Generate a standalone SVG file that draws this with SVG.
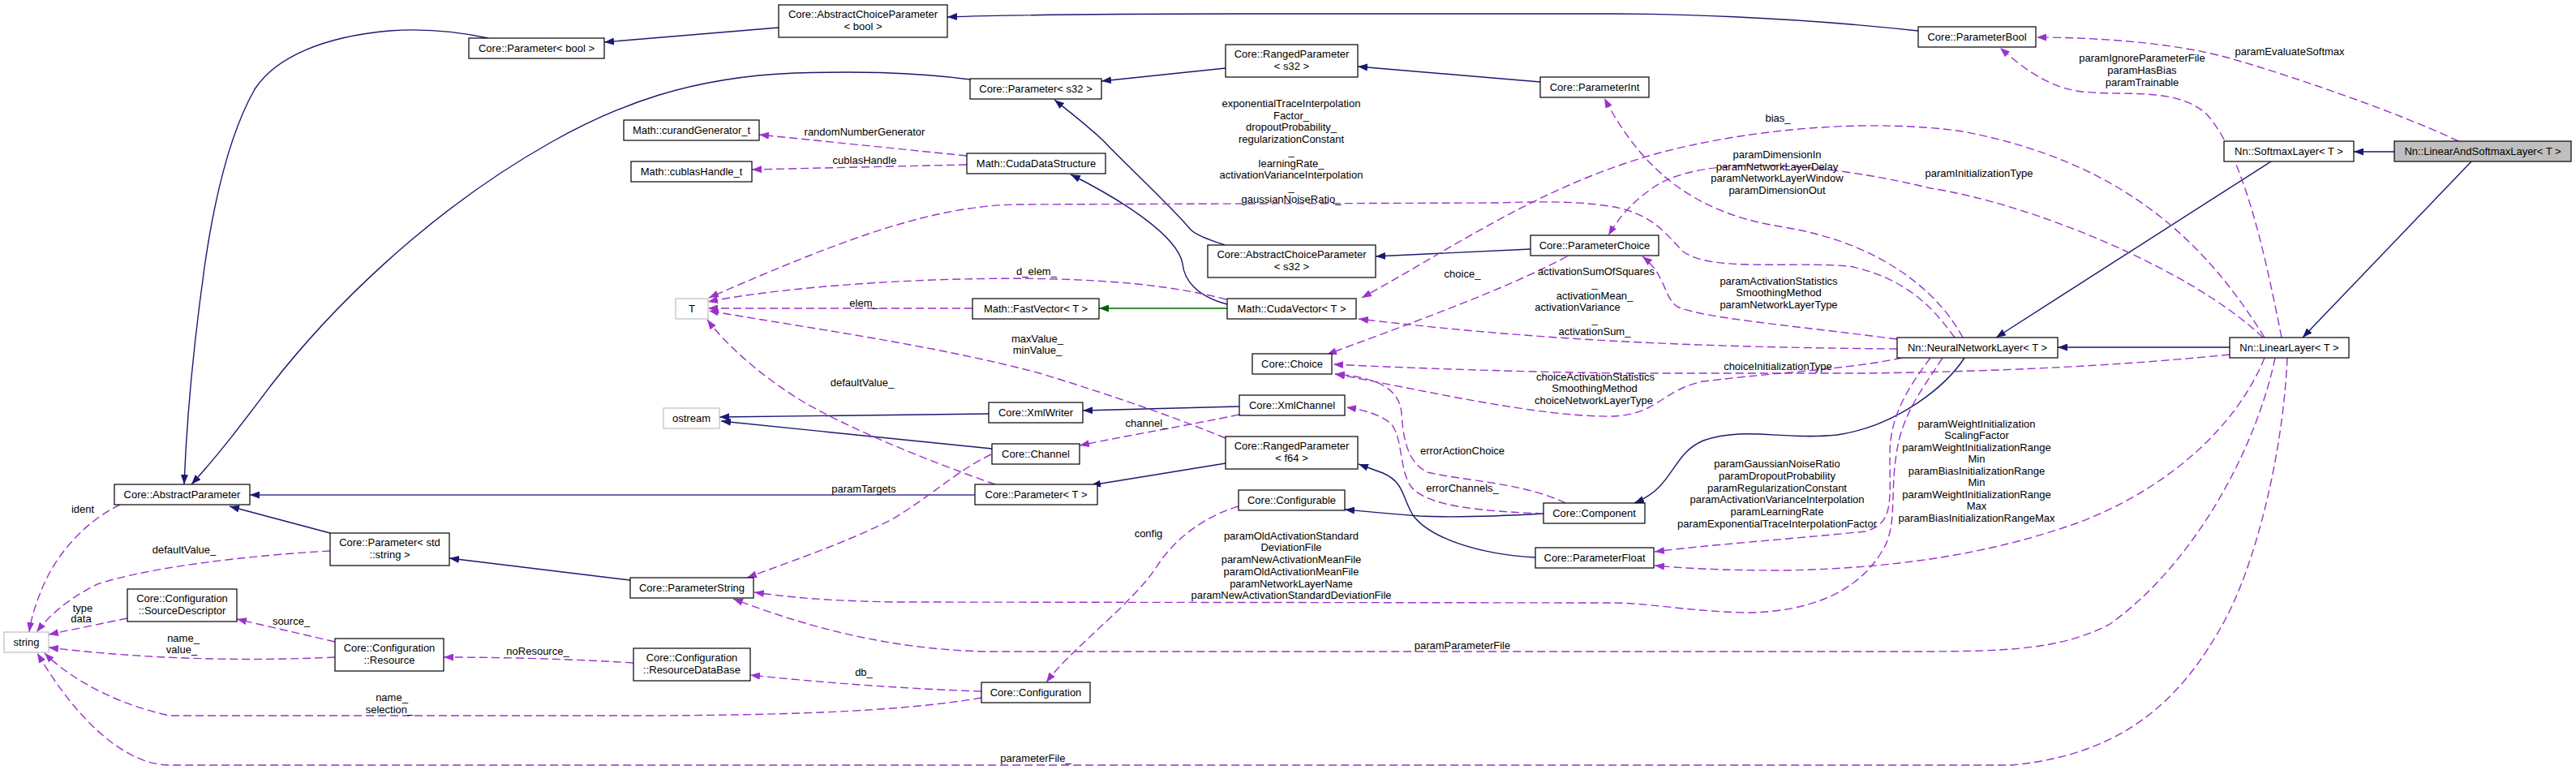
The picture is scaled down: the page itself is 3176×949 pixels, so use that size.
<svg xmlns="http://www.w3.org/2000/svg" width="3176" height="949" viewBox="0 0 3176 949">
<style>
text{font-family:"Liberation Sans",Arial,Helvetica,sans-serif;font-size:13px;fill:#000;text-anchor:middle}
.n rect{fill:#fff;stroke:#000;stroke-width:1.2}
.g rect{fill:#fff;stroke:#bfbfbf;stroke-width:1.2}
.s rect{fill:#bfbfbf;stroke:#000;stroke-width:1.2}
.inh{fill:none;stroke:#191970;stroke-width:1.4;marker-end:url(#aN)}
.inh2{fill:none;stroke:#6a6aaa;stroke-width:2.2;marker-end:url(#aN)}
.grn{fill:none;stroke:#006400;stroke-width:1.4;marker-end:url(#aG)}
.use{fill:none;stroke:#9a32cd;stroke-width:1.4;stroke-dasharray:10,5;marker-end:url(#aP)}
</style>
<defs>
<marker id="aN" viewBox="0 0 12 9" refX="12" refY="4.5" markerWidth="12" markerHeight="9" markerUnits="userSpaceOnUse" orient="auto"><path d="M0,0L12,4.5L0,9z" fill="#191970"/></marker>
<marker id="aG" viewBox="0 0 12 9" refX="12" refY="4.5" markerWidth="12" markerHeight="9" markerUnits="userSpaceOnUse" orient="auto"><path d="M0,0L12,4.5L0,9z" fill="#006400"/></marker>
<marker id="aP" viewBox="0 0 12 9" refX="12" refY="4.5" markerWidth="12" markerHeight="9" markerUnits="userSpaceOnUse" orient="auto"><path d="M0,0L12,4.5L0,9z" fill="#9a32cd"/></marker>
</defs>
<rect width="3176" height="949" fill="#fff"/>
<g id="connectors">
<path class="inh" d="M602,47 C560,38 520,35 480,38 C400,45 340,70 314,110 C280,170 262,260 252,330 C238,430 230,520 227,597"/>
<path class="inh" d="M1196,98 C1120,88 1050,88 980,90 C850,95 760,130 680,175 C520,265 400,390 334,475 C300,520 270,560 236,597"/>
<path class="inh" d="M960,34 L745,52"/>
<path class="inh" d="M2365,38 C2200,20 2050,17 1990,17 L1600,17 C1350,17 1250,18 1168,21"/>
<path class="inh" d="M1511,84 L1358,100"/>
<path class="inh" d="M1899,101 L1674,82"/>
<path class="inh" d="M1510,302 C1490,295 1475,290 1468,283 C1440,250 1380,195 1360,173 C1335,150 1315,135 1300,123"/>
<path class="inh" d="M1887,307 L1696,316"/>
<path class="inh" d="M1513,375 C1475,365 1460,345 1458,325 C1452,290 1380,245 1320,215"/>
<path class="grn" d="M1513,380 L1355,380"/>
<path class="inh" d="M1528,501 L1335,506"/>
<path class="inh" d="M1219,510 L887,514"/>
<path class="inh" d="M1223,553 L889,519"/>
<path class="inh2" d="M1202,610 L308,610"/>
<path class="inh" d="M407,657 L283,624"/>
<path class="inh" d="M777,715 L554,688"/>
<path class="inh" d="M1511,571 L1345,598"/>
<path class="inh" d="M1893,687 C1820,683 1762,662 1742,635 C1728,612 1732,595 1705,583 L1675,572"/>
<path class="inh" d="M1903,633 C1850,636 1790,638 1750,636 C1710,633 1680,630 1658,628"/>
<path class="inh" d="M2422,441 C2400,475 2340,525 2265,536 C2200,543 2150,525 2100,543 C2060,560 2065,600 2015,620"/>
<path class="inh" d="M2800,199 L2461,416"/>
<path class="inh" d="M2952,187 L2902,187"/>
<path class="inh" d="M3047,199 L2839,416"/>
<path class="inh" d="M2749,428 L2537,428"/>

<path class="use" d="M1192,192 L936,166"/>
<path class="use" d="M1192,203 L927,209"/>
<path class="use" d="M1199,380 L873,380"/>
<path class="use" d="M1512,369 C1420,345 1300,340 1150,345 C1020,350 920,362 873,372"/>
<path class="use" d="M2410,416 C2390,390 2360,345 2280,328 C2200,322 2110,335 2075,310 C2055,290 2040,265 1990,255 C1950,248 1900,248 1850,250 L1251,252 C1150,255 1050,290 874,367"/>
<path class="use" d="M1227,597 C1150,570 1050,530 990,495 C940,465 895,425 872,394"/>
<path class="use" d="M1511,540 C1450,515 1380,490 1282,460 C1150,425 1000,405 874,383"/>
<path class="use" d="M2792,416 C2720,300 2620,200 2420,162 C2300,145 2150,160 2040,190 C1900,230 1800,300 1679,367"/>
<path class="use" d="M1932,316 C1850,360 1720,405 1636,437"/>
<path class="use" d="M2339,430 C2100,428 1900,420 1675,393"/>
<path class="use" d="M2339,418 C2200,400 2100,392 2068,378 C2050,365 2055,340 2025,316"/>
<path class="use" d="M2420,416 C2390,360 2320,300 2200,280 C2100,265 2030,220 1978,121"/>
<path class="use" d="M2790,416 C2700,330 2500,250 2380,232 C2250,200 2100,190 2040,230 C2010,250 1995,270 1983,290"/>
<path class="use" d="M2749,437 C2600,452 2450,458 2300,460 L2000,460 C1850,458 1700,452 1644,449"/>
<path class="use" d="M2345,441 C2280,455 2200,458 2100,470 C2050,480 2045,510 1990,513 C1900,515 1750,480 1646,461"/>
<path class="use" d="M1930,620 C1880,595 1800,592 1760,582 C1735,570 1730,540 1728,510 C1726,480 1700,465 1646,461"/>
<path class="use" d="M1903,633 C1830,630 1760,625 1740,600 C1725,580 1730,540 1715,522 C1700,510 1680,505 1660,502"/>
<path class="use" d="M2380,441 C2355,475 2330,510 2330,560 C2330,620 2335,645 2300,655 C2200,665 2100,672 2040,680"/>
<path class="use" d="M2792,441 C2760,520 2680,600 2560,645 C2460,680 2350,700 2200,703 C2120,703 2070,700 2040,697"/>
<path class="use" d="M2395,441 C2370,480 2345,510 2338,560 C2330,610 2340,650 2320,680 C2290,730 2230,755 2150,755 C2080,753 2030,743 1990,743 L1100,742 C1000,740 960,734 930,730"/>
<path class="use" d="M2805,441 C2780,560 2700,700 2600,770 C2540,800 2480,803 2360,803 L1214,803 C1100,800 1000,775 904,738"/>
<path class="use" d="M2820,441 C2815,560 2780,700 2740,770 C2690,860 2620,930 2480,943 L210,943 C150,943 90,880 46,805"/>
<path class="use" d="M1210,860 C1150,870 1050,882 780,882 L210,882 C150,870 90,840 55,805"/>
<path class="use" d="M148,622 C100,645 65,690 50,730 C42,750 38,765 36,779"/>
<path class="use" d="M407,679 C300,685 180,700 120,720 C80,740 60,760 45,779"/>
<path class="use" d="M157,762 L60,782"/>
<path class="use" d="M413,810 C330,814 200,815 60,798"/>
<path class="use" d="M413,791 L292,763"/>
<path class="use" d="M781,817 C700,812 620,810 547,810"/>
<path class="use" d="M1210,852 C1150,850 1050,845 925,832"/>
<path class="use" d="M1527,624 C1490,635 1450,660 1425,700 C1395,745 1320,800 1290,841"/>
<path class="use" d="M1528,511 C1460,525 1400,535 1331,549"/>
<path class="use" d="M1222,560 C1180,580 1150,610 1100,640 C1040,670 980,690 921,712"/>
<path class="use" d="M3031,174 C2960,140 2830,95 2750,72 C2680,52 2580,46 2511,46"/>
<path class="use" d="M2813,416 C2790,300 2765,190 2720,140 C2680,105 2610,120 2560,112 C2520,105 2490,80 2466,59"/>

<g id="edge-labels">
<text x="1066" y="167">randomNumberGenerator</text>
<text x="1066" y="202">cublasHandle</text>
<text x="1278" y="339">d_elem_</text>
<text x="1065" y="378">elem_</text>
<text x="1279" y="422">maxValue_</text>
<text x="1279" y="436">minValue_</text>
<text x="1063" y="476">defaultValue_</text>
<text x="1592" y="132">exponentialTraceInterpolation</text>
<text x="1592" y="146.5">Factor_</text>
<text x="1592" y="161">dropoutProbability_</text>
<text x="1592" y="176">regularizationConstant</text>
<text x="1592" y="190.5">_</text>
<text x="1592" y="205.5">learningRate_</text>
<text x="1592" y="220">activationVarianceInterpolation</text>
<text x="1592" y="235">_</text>
<text x="1592" y="250">gaussianNoiseRatio_</text>
<text x="2192" y="150">bias_</text>
<text x="2191" y="195">paramDimensionIn</text>
<text x="2191" y="210">paramNetworkLayerDelay</text>
<text x="2191" y="224">paramNetworkLayerWindow</text>
<text x="2191" y="239">paramDimensionOut</text>
<text x="1803" y="342">choice_</text>
<text x="1968" y="339">activationSumOfSquares</text>
<text x="1966" y="354">_</text>
<text x="1966" y="369">activationMean_</text>
<text x="1945" y="383">activationVariance</text>
<text x="1966" y="398">_</text>
<text x="1966" y="413">activationSum_</text>
<text x="2193" y="351">paramActivationStatistics</text>
<text x="2193" y="365">SmoothingMethod</text>
<text x="2193" y="380">paramNetworkLayerType</text>
<text x="2192" y="456">choiceInitializationType</text>
<text x="1967" y="469">choiceActivationStatistics</text>
<text x="1966" y="483">SmoothingMethod</text>
<text x="1965" y="498">choiceNetworkLayerType</text>
<text x="1803" y="560">errorActionChoice</text>
<text x="1803" y="606">errorChannels_</text>
<text x="2191" y="576">paramGaussianNoiseRatio</text>
<text x="2191" y="591">paramDropoutProbability</text>
<text x="2191" y="606">paramRegularizationConstant</text>
<text x="2191" y="620">paramActivationVarianceInterpolation</text>
<text x="2191" y="635">paramLearningRate</text>
<text x="2191" y="650">paramExponentialTraceInterpolationFactor</text>
<text x="2437" y="527">paramWeightInitialization</text>
<text x="2437" y="541">ScalingFactor</text>
<text x="2437" y="556">paramWeightInitializationRange</text>
<text x="2437" y="570">Min</text>
<text x="2437" y="585">paramBiasInitializationRange</text>
<text x="2437" y="599">Min</text>
<text x="2437" y="614">paramWeightInitializationRange</text>
<text x="2437" y="628">Max</text>
<text x="2437" y="643">paramBiasInitializationRangeMax</text>
<text x="1592" y="665">paramOldActivationStandard</text>
<text x="1592" y="679">DeviationFile</text>
<text x="1592" y="694">paramNewActivationMeanFile</text>
<text x="1592" y="709">paramOldActivationMeanFile</text>
<text x="1592" y="724">paramNetworkLayerName</text>
<text x="1592" y="738">paramNewActivationStandardDeviationFile</text>
<text x="1803" y="800">paramParameterFile</text>
<text x="1277" y="939">parameterFile_</text>
<text x="2823" y="68">paramEvaluateSoftmax</text>
<text x="2641" y="76">paramIgnoreParameterFile</text>
<text x="2641" y="91">paramHasBias</text>
<text x="2641" y="106">paramTrainable</text>
<text x="2440" y="218">paramInitializationType</text>
<text x="102" y="632">ident</text>
<text x="227" y="682">defaultValue_</text>
<text x="102" y="754">type</text>
<text x="100" y="767">data</text>
<text x="359" y="770">source_</text>
<text x="226" y="791">name_</text>
<text x="224" y="805">value_</text>
<text x="483" y="864">name_</text>
<text x="480" y="879">selection_</text>
<text x="663" y="807">noResource_</text>
<text x="1065" y="833">db_</text>
<text x="1416" y="662">config</text>
<text x="1414" y="526">channel_</text>
<text x="1065" y="607">paramTargets</text>
</g>
</g>

<g id="n_param_bool" class="n"><rect x="578" y="47" width="167" height="25"/><text x="661.5" y="64">Core::Parameter&lt; bool &gt;</text></g>
<g id="n_acp_bool" class="n"><rect x="960" y="6" width="208" height="40"/><text x="1064" y="22">Core::AbstractChoiceParameter</text><text x="1064" y="37">&lt; bool &gt;</text></g>
<g id="n_parameterbool" class="n"><rect x="2365" y="33" width="145" height="25"/><text x="2437.5" y="50">Core::ParameterBool</text></g>
<g id="n_param_s32" class="n"><rect x="1196" y="97" width="162" height="25"/><text x="1277" y="114">Core::Parameter&lt; s32 &gt;</text></g>
<g id="n_ranged_s32" class="n"><rect x="1511" y="55" width="163" height="40"/><text x="1592.5" y="71">Core::RangedParameter</text><text x="1592.5" y="86">&lt; s32 &gt;</text></g>
<g id="n_parameterint" class="n"><rect x="1899" y="95" width="134" height="25"/><text x="1966" y="112">Core::ParameterInt</text></g>
<g id="n_curand" class="n"><rect x="769" y="148" width="167" height="25"/><text x="852.5" y="165">Math::curandGenerator_t</text></g>
<g id="n_cublas" class="n"><rect x="778" y="199" width="149" height="25"/><text x="852.5" y="216">Math::cublasHandle_t</text></g>
<g id="n_cudads" class="n"><rect x="1192" y="189" width="171" height="25"/><text x="1277.5" y="206">Math::CudaDataStructure</text></g>
<g id="n_acp_s32" class="n"><rect x="1489" y="302" width="207" height="40"/><text x="1592.5" y="318">Core::AbstractChoiceParameter</text><text x="1592.5" y="333">&lt; s32 &gt;</text></g>
<g id="n_parameterchoice" class="n"><rect x="1887" y="290" width="158" height="25"/><text x="1966" y="307">Core::ParameterChoice</text></g>
<g id="n_T" class="g"><rect x="833" y="368" width="40" height="25"/><text x="853" y="385">T</text></g>
<g id="n_fastvector" class="n"><rect x="1199" y="368" width="156" height="25"/><text x="1277" y="385">Math::FastVector&lt; T &gt;</text></g>
<g id="n_cudavector" class="n"><rect x="1513" y="368" width="159" height="25"/><text x="1592.5" y="385">Math::CudaVector&lt; T &gt;</text></g>
<g id="n_choice" class="n"><rect x="1544" y="436" width="98" height="25"/><text x="1593" y="453">Core::Choice</text></g>
<g id="n_nnlayer" class="n"><rect x="2339" y="416" width="198" height="25"/><text x="2438" y="433">Nn::NeuralNetworkLayer&lt; T &gt;</text></g>
<g id="n_linearlayer" class="n"><rect x="2749" y="416" width="147" height="25"/><text x="2822.5" y="433">Nn::LinearLayer&lt; T &gt;</text></g>
<g id="n_softmaxlayer" class="n"><rect x="2742" y="174" width="160" height="25"/><text x="2822" y="191">Nn::SoftmaxLayer&lt; T &gt;</text></g>
<g id="n_linearandsoftmax" class="s"><rect x="2952" y="174" width="218" height="25"/><text x="3061" y="191">Nn::LinearAndSoftmaxLayer&lt; T &gt;</text></g>
<g id="n_ostream" class="g"><rect x="818" y="503" width="69" height="25"/><text x="852.5" y="520">ostream</text></g>
<g id="n_xmlwriter" class="n"><rect x="1219" y="496" width="116" height="25"/><text x="1277" y="513">Core::XmlWriter</text></g>
<g id="n_xmlchannel" class="n"><rect x="1528" y="487" width="130" height="25"/><text x="1593" y="504">Core::XmlChannel</text></g>
<g id="n_channel" class="n"><rect x="1223" y="547" width="108" height="25"/><text x="1277" y="564">Core::Channel</text></g>
<g id="n_ranged_f64" class="n"><rect x="1511" y="538" width="163" height="40"/><text x="1592.5" y="554">Core::RangedParameter</text><text x="1592.5" y="569">&lt; f64 &gt;</text></g>
<g id="n_abstractparameter" class="n"><rect x="141" y="597" width="167" height="25"/><text x="224.5" y="614">Core::AbstractParameter</text></g>
<g id="n_param_T" class="n"><rect x="1202" y="597" width="151" height="25"/><text x="1277.5" y="614">Core::Parameter&lt; T &gt;</text></g>
<g id="n_configurable" class="n"><rect x="1527" y="604" width="131" height="25"/><text x="1592.5" y="621">Core::Configurable</text></g>
<g id="n_component" class="n"><rect x="1903" y="620" width="125" height="25"/><text x="1965.5" y="637">Core::Component</text></g>
<g id="n_param_stdstring" class="n"><rect x="407" y="657" width="147" height="40"/><text x="480.5" y="673">Core::Parameter&lt; std</text><text x="480.5" y="688">::string &gt;</text></g>
<g id="n_parameterfloat" class="n"><rect x="1893" y="675" width="146" height="25"/><text x="1966" y="692">Core::ParameterFloat</text></g>
<g id="n_parameterstring" class="n"><rect x="777" y="712" width="152" height="25"/><text x="853" y="729">Core::ParameterString</text></g>
<g id="n_sourcedescriptor" class="n"><rect x="157" y="726" width="135" height="40"/><text x="224.5" y="742">Core::Configuration</text><text x="224.5" y="757">::SourceDescriptor</text></g>
<g id="n_string" class="g"><rect x="5" y="779" width="55" height="25"/><text x="32.5" y="796">string</text></g>
<g id="n_resource" class="n"><rect x="413" y="787" width="134" height="40"/><text x="480" y="803">Core::Configuration</text><text x="480" y="818">::Resource</text></g>
<g id="n_resourcedb" class="n"><rect x="781" y="799" width="144" height="40"/><text x="853" y="815">Core::Configuration</text><text x="853" y="830">::ResourceDataBase</text></g>
<g id="n_configuration" class="n"><rect x="1210" y="841" width="134" height="25"/><text x="1277" y="858">Core::Configuration</text></g>
</svg>
